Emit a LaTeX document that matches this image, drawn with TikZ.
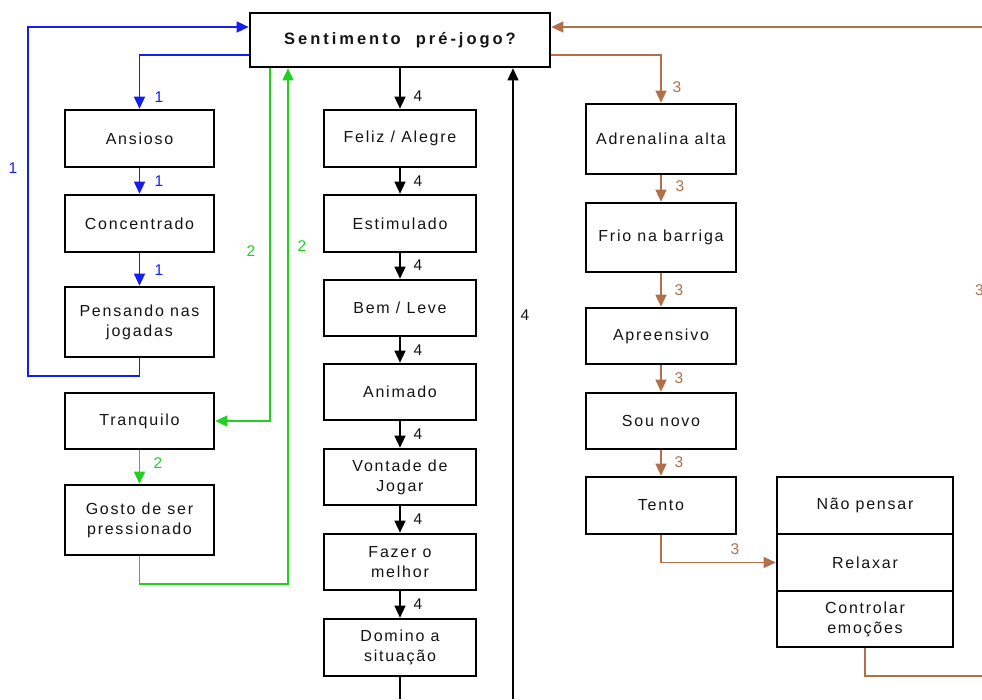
\documentclass[tikz,border=0pt]{standalone}
\usepackage{fontspec}
\setmainfont{Liberation Sans}[LetterSpace=11]
\usetikzlibrary{arrows.meta}
\definecolor{cblue}{RGB}{20,30,240}
\definecolor{cgreen}{RGB}{30,210,30}
\definecolor{cbrown}{RGB}{176,112,74}
\definecolor{ctext}{RGB}{20,20,20}
\begin{document}
\begin{tikzpicture}[x=1pt,y=-1pt,
  every node/.style={font=\fontsize{16}{20}\selectfont, text=ctext},
  stepbox/.style={draw=black, line width=2.6pt, align=center, inner sep=0pt},
  lbox/.style={stepbox, minimum width=149pt},
  mbox/.style={stepbox, minimum width=152pt},
  rbox/.style={stepbox, minimum width=150pt},
  sbox/.style={stepbox, minimum width=176pt, minimum height=57pt},
  conn/.style={line width=1.3pt, -{Triangle[length=12pt,width=11pt]}},
  plain/.style={line width=1.3pt},
  num/.style={inner sep=0pt, font=\fontsize{15.5}{16}\selectfont}
]
\useasboundingbox (0,0) rectangle (982,699);

% central question
\node[stepbox, minimum width=300pt, minimum height=54pt,
      font=\fontsize{16.5}{18}\selectfont\bfseries\addfontfeature{LetterSpace=18}] (main) at (400,40) {Sentimento\ \ pré-jogo?};

% left column
\node[lbox, minimum height=57pt] (ansioso) at (139.5,138.5) {Ansioso};
\node[lbox, minimum height=57pt] (concentrado) at (139.5,223.5) {Concentrado};
\node[lbox, minimum height=70pt] (pensando) at (139.5,322) {Pensando nas\\jogadas};
\node[lbox, minimum height=56pt] (tranquilo) at (139.5,421) {Tranquilo};
\node[lbox, minimum height=70pt] (gosto) at (139.5,520) {Gosto de ser\\pressionado};

% middle column
\node[mbox, minimum height=57pt] (feliz) at (400,138.5) {Feliz / Alegre};
\node[mbox, minimum height=57pt] (estimulado) at (400,223.5) {Estimulado};
\node[mbox, minimum height=56pt] (bem) at (400,308) {Bem / Leve};
\node[mbox, minimum height=56pt] (animado) at (400,392) {Animado};
\node[mbox, minimum height=56pt] (vontade) at (400,477) {Vontade de\\Jogar};
\node[mbox, minimum height=56pt] (fazer) at (400,562) {Fazer o\\melhor};
\node[mbox, minimum height=57pt] (domino) at (400,647.5) {Domino a\\situação};

% right column
\node[rbox, minimum height=70pt] (adren) at (661,139) {Adrenalina alta};
\node[rbox, minimum height=69pt] (frio) at (661,237.5) {Frio na barriga};
\node[rbox, minimum height=56pt] (apreensivo) at (661,336) {Apreensivo};
\node[rbox, minimum height=56pt] (sounovo) at (661,421) {Sou novo};
\node[rbox, minimum height=57pt] (tento) at (661,505.5) {Tento};

% stacked strategies
\node[sbox] (naopensar) at (865,505.5) {Não pensar};
\node[sbox] (relaxar) at (865,562.5) {Relaxar};
\node[sbox, minimum height=56pt] (controlar) at (865,619) {Controlar\\emoções};

% free ends
\coordinate (blueL) at (28,376);
\coordinate (greenB) at (288,584);
\coordinate (midOut) at (400,699);
\coordinate (midIn) at (513,699);
\coordinate (brownOut) at (982,676);
\coordinate (brownIn) at (982,27);

% path 1 (blue)
\draw[conn, cblue] ([yshift=-15pt]main.west) -| (ansioso.north);
\draw[conn, cblue] (ansioso) -- (concentrado);
\draw[conn, cblue] (concentrado) -- (pensando);
\draw[conn, cblue] (pensando.south) |- (blueL) |- ([yshift=13pt]main.west);
\node[num, text=cblue] (l1a) at (159,97) {1};
\node[num, text=cblue] (l1b) at (159,181) {1};
\node[num, text=cblue] (l1c) at (159,270) {1};
\node[num, text=cblue] (l1d) at (13,168) {1};

% path 2 (green)
\draw[conn, cgreen] ([xshift=-130pt]main.south) |- (tranquilo.east);
\draw[conn, cgreen] (tranquilo) -- (gosto);
\draw[conn, cgreen] (gosto.south) |- (greenB) -- ([xshift=-112pt]main.south);
\node[num, text=cgreen] (l2a) at (251,251) {2};
\node[num, text=cgreen] (l2b) at (302,246) {2};
\node[num, text=cgreen] (l2c) at (158,463) {2};

% path 4 (black)
\draw[conn, black] (main) -- (feliz);
\draw[conn, black] (feliz) -- (estimulado);
\draw[conn, black] (estimulado) -- (bem);
\draw[conn, black] (bem) -- (animado);
\draw[conn, black] (animado) -- (vontade);
\draw[conn, black] (vontade) -- (fazer);
\draw[conn, black] (fazer) -- (domino);
\draw[plain, black] (domino.south) -- (midOut);
\draw[conn, black] (midIn) -- ([xshift=113pt]main.south);
\foreach \yy/\nm in {96/a,181/b,265/c,350/d,434/e,519/f,604/g}
  \node[num] (l4\nm) at (418,\yy) {4};
\node[num] (l4h) at (525,315) {4};

% path 3 (brown)
\draw[conn, cbrown] ([yshift=-15pt]main.east) -| (adren.north);
\draw[conn, cbrown] (adren) -- (frio);
\draw[conn, cbrown] (frio) -- (apreensivo);
\draw[conn, cbrown] (apreensivo) -- (sounovo);
\draw[conn, cbrown] (sounovo) -- (tento);
\draw[conn, cbrown] (tento.south) |- (relaxar.west);
\draw[plain, cbrown] (controlar.south) |- (brownOut);
\draw[conn, cbrown] (brownIn) -- ([yshift=13pt]main.east);
\node[num, text=cbrown] (l3a) at (677,87) {3};
\node[num, text=cbrown] (l3b) at (680,186) {3};
\node[num, text=cbrown] (l3c) at (679,290) {3};
\node[num, text=cbrown] (l3d) at (679,378) {3};
\node[num, text=cbrown] (l3e) at (679,462) {3};
\node[num, text=cbrown] (l3f) at (735,549) {3};
\node[num, text=cbrown, anchor=west] (l3g) at (975,290) {3};
\end{tikzpicture}
\end{document}
